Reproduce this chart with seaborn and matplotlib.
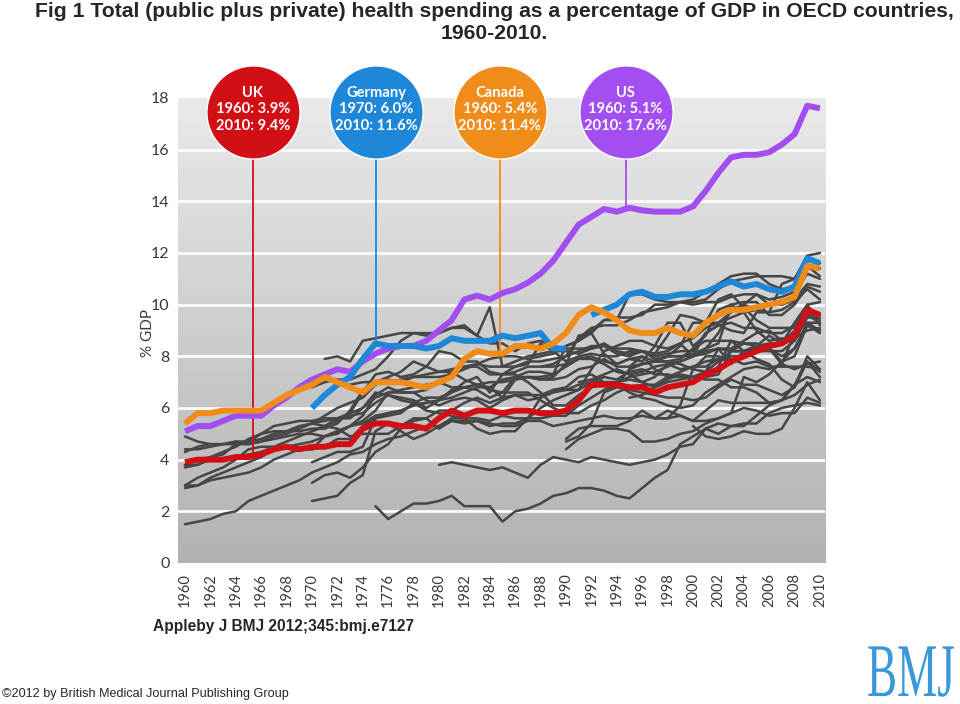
import numpy as np
import pandas as pd
import matplotlib
matplotlib.use("Agg")
import matplotlib.pyplot as plt
from matplotlib.colors import LinearSegmentedColormap
from matplotlib.patheffects import AbstractPathEffect
from matplotlib.transforms import Affine2D
import seaborn as sns

# --- highlighted countries (health spending, % of GDP) ---
YEARS = list(range(1960, 2011))

uk = [3.9, 4.0, 4.0, 4.0, 4.1, 4.1, 4.2, 4.4, 4.5, 4.4,
      4.5, 4.5, 4.6, 4.6, 5.2, 5.4, 5.4, 5.3, 5.3, 5.2,
      5.6, 5.9, 5.7, 5.9, 5.9, 5.8, 5.9, 5.9, 5.8, 5.8,
      5.9, 6.3, 6.9, 6.9, 6.9, 6.8, 6.8, 6.6, 6.8, 6.9,
      7.0, 7.3, 7.5, 7.8, 8.0, 8.2, 8.4, 8.5, 8.8, 9.8, 9.6]

us = [5.1, 5.3, 5.3, 5.5, 5.7, 5.7, 5.7, 6.1, 6.4, 6.8,
      7.1, 7.3, 7.5, 7.4, 7.8, 8.1, 8.3, 8.4, 8.4, 8.6,
      9.0, 9.4, 10.2, 10.35, 10.2, 10.45, 10.6, 10.85, 11.2, 11.7,
      12.4, 13.1, 13.4, 13.7, 13.6, 13.75, 13.65, 13.6, 13.6, 13.6,
      13.8, 14.4, 15.1, 15.7, 15.8, 15.8, 15.9, 16.2, 16.6, 17.7, 17.6]

canada = [5.4, 5.8, 5.8, 5.9, 5.9, 5.9, 5.9, 6.2, 6.5, 6.7,
          6.9, 7.2, 7.0, 6.8, 6.6, 7.0, 7.0, 7.0, 6.9, 6.8,
          7.0, 7.2, 7.9, 8.2, 8.1, 8.1, 8.4, 8.4, 8.3, 8.5,
          8.9, 9.6, 9.9, 9.7, 9.4, 9.0, 8.9, 8.9, 9.1, 8.9,
          8.8, 9.3, 9.6, 9.8, 9.8, 9.9, 10.0, 10.1, 10.3, 11.5, 11.4]

germany_years_a = list(range(1970, 1991))
germany_a = [6.0, 6.5, 6.9, 7.2, 7.9, 8.5, 8.4, 8.4, 8.4, 8.3,
             8.4, 8.7, 8.6, 8.6, 8.6, 8.8, 8.7, 8.8, 8.9, 8.3, 8.3]
germany_years_b = list(range(1992, 2011))
germany_b = [9.6, 9.8, 10.0, 10.4, 10.5, 10.3, 10.3, 10.4, 10.4, 10.5,
             10.7, 10.9, 10.7, 10.8, 10.6, 10.5, 10.7, 11.8, 11.6]

# --- other OECD countries (grey) ---
australia = [4.3, 4.5, 4.6, 4.6, 4.6, 4.6, 4.7, 4.8, 4.9, 5.0,
             5.0, 4.9, 5.0, 5.3, 5.7, 6.5, 6.8, 6.6, 6.6, 6.3,
             6.1, 6.3, 6.4, 6.3, 6.0, 6.3, 6.5, 6.5, 6.5, 6.7,
             6.7, 6.9, 7.0, 7.0, 7.0, 7.2, 7.3, 7.4, 7.6, 7.8,
             8.0, 8.1, 8.3, 8.2, 8.5, 8.4, 8.5, 8.5, 8.7, 9.0, 9.1]
austria = [4.4, 4.4, 4.5, 4.6, 4.7, 4.7, 4.8, 5.0, 5.1, 5.1,
           5.2, 5.2, 5.4, 5.9, 6.7, 7.0, 7.2, 7.4, 7.8, 7.6,
           7.4, 7.4, 7.1, 6.9, 6.8, 6.4, 7.1, 7.2, 7.2, 7.3,
           8.4, 8.6, 9.0, 9.4, 9.5, 9.5, 9.6, 10.0, 10.0, 10.1,
           10.0, 10.1, 10.1, 10.3, 10.4, 10.4, 10.2, 10.3, 10.5, 11.2, 11.0]
switzerland = [4.9, 4.7, 4.6, 4.6, 4.7, 4.6, 4.7, 4.9, 5.0, 5.2,
               5.4, 5.7, 6.0, 6.2, 6.4, 6.9, 7.1, 7.0, 7.2, 7.2,
               7.2, 7.3, 7.5, 7.7, 7.6, 7.6, 7.6, 7.8, 7.8, 7.9,
               8.0, 8.7, 9.1, 9.2, 9.2, 9.4, 9.7, 9.8, 9.9, 10.1,
               10.2, 10.5, 10.8, 11.1, 11.2, 11.2, 10.8, 10.6, 10.7, 11.4, 11.4]
finland = [3.8, 3.8, 4.1, 4.2, 4.6, 4.7, 5.0, 5.3, 5.4, 5.5,
           5.5, 5.6, 5.6, 5.7, 5.8, 6.2, 6.5, 6.4, 6.3, 6.0,
           6.3, 6.4, 6.6, 6.8, 6.8, 7.1, 7.2, 7.2, 7.1, 7.2,
           7.7, 8.8, 8.9, 8.1, 7.7, 7.9, 8.0, 7.5, 7.2, 7.2,
           7.2, 7.4, 7.8, 8.2, 8.2, 8.4, 8.3, 8.0, 8.3, 9.2, 8.9]
france = [3.8, 4.0, 4.1, 4.3, 4.5, 4.8, 5.0, 5.1, 5.1, 5.3,
          5.4, 5.5, 5.6, 5.8, 6.0, 6.4, 6.6, 6.7, 6.8, 6.9,
          7.0, 7.4, 7.6, 7.7, 7.9, 8.0, 8.0, 7.9, 8.0, 8.1,
          8.4, 8.6, 8.9, 9.4, 9.4, 10.4, 10.4, 10.2, 10.1, 10.1,
          10.1, 10.2, 10.6, 10.9, 11.0, 11.1, 11.1, 11.1, 11.0, 11.7, 11.6]
japan = [3.0, 3.3, 3.5, 3.7, 4.0, 4.4, 4.5, 4.5, 4.5, 4.4,
         4.4, 4.5, 4.8, 4.8, 5.3, 5.6, 5.7, 5.8, 6.2, 6.4,
         6.4, 6.6, 6.8, 6.9, 6.7, 6.6, 6.6, 6.6, 6.3, 6.0,
         5.8, 5.8, 6.1, 6.3, 6.6, 6.8, 6.9, 6.9, 7.2, 7.4,
         7.6, 7.8, 7.9, 8.0, 8.0, 8.2, 8.2, 8.2, 8.6, 9.5, 9.5]
norway = [2.9, 3.0, 3.2, 3.3, 3.4, 3.5, 3.7, 4.0, 4.2, 4.4,
          4.4, 4.9, 5.1, 5.3, 5.5, 5.9, 6.6, 6.6, 6.6, 6.7,
          7.0, 6.8, 6.8, 6.7, 6.4, 6.6, 7.2, 7.4, 7.4, 7.3,
          7.6, 7.9, 8.0, 7.8, 7.7, 7.9, 7.8, 8.4, 9.3, 9.3,
          8.4, 8.8, 9.8, 10.0, 9.7, 9.0, 8.6, 8.7, 8.6, 9.8, 9.4]
iceland = [3.0, 3.0, 3.3, 3.5, 3.7, 3.9, 4.1, 4.4, 4.5, 4.6,
           4.7, 4.9, 5.1, 5.3, 5.4, 5.7, 5.8, 5.9, 6.1, 6.2,
           6.3, 6.6, 7.0, 7.2, 6.6, 7.3, 7.6, 7.7, 8.5, 8.2,
           7.8, 8.0, 8.1, 8.0, 8.0, 8.2, 8.2, 8.1, 8.8, 9.6,
           9.5, 9.3, 10.2, 10.4, 9.9, 9.4, 9.1, 9.1, 9.1, 9.6, 9.3]
ireland = [3.7, 3.8, 4.0, 4.0, 4.1, 4.2, 4.3, 4.5, 4.7, 4.9,
           5.1, 5.3, 5.5, 5.8, 6.6, 7.3, 7.4, 7.2, 7.3, 7.6,
           8.2, 8.1, 7.8, 7.8, 7.4, 7.3, 7.3, 7.0, 6.6, 6.1,
           6.1, 6.5, 6.8, 6.9, 6.9, 6.6, 6.4, 6.3, 6.1, 6.0,
           6.1, 6.6, 6.9, 7.2, 7.5, 7.6, 7.5, 7.7, 8.9, 10.0, 9.2]
spain = [1.5, 1.6, 1.7, 1.9, 2.0, 2.4, 2.6, 2.8, 3.0, 3.2,
         3.5, 3.7, 3.9, 4.2, 4.3, 4.6, 4.8, 4.9, 5.1, 5.3,
         5.3, 5.5, 5.4, 5.5, 5.3, 5.4, 5.4, 5.6, 6.0, 6.3,
         6.5, 6.7, 7.0, 7.2, 7.1, 7.4, 7.5, 7.3, 7.3, 7.2,
         7.2, 7.2, 7.3, 8.2, 8.2, 8.3, 8.4, 8.5, 9.0, 9.6, 9.6]
denmark = [7.9, 8.0, 7.8, 8.6, 8.7, 8.8, 8.9, 8.9, 8.9,
           8.9, 9.1, 9.1, 8.8, 8.5, 8.5, 8.2, 8.5, 8.6, 8.4,
           8.3, 8.3, 8.3, 8.5, 8.2, 8.1, 8.2, 8.1, 8.2, 8.5,
           8.7, 9.1, 9.3, 9.5, 9.7, 9.8, 10.0, 10.0, 10.2, 11.5, 11.1]
sweden = [6.8, 7.0, 7.1, 7.1, 7.3, 7.5, 8.0, 8.6, 8.9, 8.8,
          8.9, 9.1, 9.2, 8.8, 9.9, 7.6, 7.8, 8.0, 8.1, 8.2,
          8.2, 8.1, 8.3, 8.4, 8.1, 8.0, 8.2, 8.0, 8.1, 8.2,
          8.2, 8.9, 9.2, 9.3, 9.1, 9.1, 8.9, 8.9, 9.2, 9.9, 9.6]
netherlands = [6.9, 6.9, 7.0, 7.0, 7.0, 7.1, 7.2, 7.3,
               7.4, 7.5, 7.6, 7.6, 7.3, 7.3, 7.4, 7.6, 7.6, 7.7,
               8.0, 8.2, 8.4, 8.4, 8.3, 8.3, 8.2, 7.9, 8.0, 8.0,
               8.0, 8.3, 8.9, 9.8, 10.0, 9.8, 9.7, 10.8, 11.0, 11.9, 12.0]
belgium = [3.9, 4.1, 4.3, 4.3, 4.5, 5.6, 5.8, 5.9, 6.1, 6.2,
           6.3, 6.7, 6.8, 6.9, 7.0, 7.0, 7.1, 7.2, 7.1, 7.1,
           7.2, 7.5, 7.6, 7.9, 7.6, 7.6, 8.0, 7.8, 8.0, 8.0,
           8.1, 8.3, 8.5, 10.0, 10.1, 10.1, 9.6, 9.6, 10.0, 10.7, 10.5]
new_zealand = [5.1, 5.3, 5.6, 5.6, 6.0, 6.6, 6.5, 6.3, 6.2, 5.9,
               5.8, 5.7, 5.6, 5.2, 5.0, 5.1, 5.1, 5.6, 6.4, 6.7,
               6.8, 7.2, 7.3, 7.0, 7.0, 7.1, 7.0, 7.2, 7.7, 7.5,
               7.6, 7.6, 7.9, 7.8, 8.0, 8.4, 8.8, 8.5, 9.3, 10.0, 10.1]
greece = [5.4, 5.3, 5.2, 4.9, 5.0, 5.0, 5.0, 5.3, 5.6, 5.6,
          5.9, 5.9, 6.2, 6.4, 6.2, 6.4, 6.5, 6.3, 6.4, 6.6,
          6.7, 6.7, 7.5, 8.2, 8.4, 8.6, 8.6, 8.4, 8.3, 8.5,
          8.0, 8.9, 9.2, 9.0, 8.9, 9.7, 9.7, 9.8, 10.1, 10.6, 10.2]
luxembourg = [3.1, 3.4, 3.5, 3.3, 3.7, 4.3, 4.6, 5.2, 5.5, 5.6,
              5.2, 5.5, 5.5, 5.5, 5.4, 5.3, 5.3, 5.5, 5.5, 5.3,
              5.4, 5.5, 5.6, 5.7, 5.6, 5.6, 5.7, 5.6, 5.6, 6.1,
              7.5, 7.4, 8.3, 7.7, 8.2, 7.9, 7.7, 7.1, 6.8, 7.8, 7.2]
portugal = [2.4, 2.5, 2.6, 3.1, 3.4, 5.1, 5.4, 5.1, 4.8, 5.0,
            5.3, 5.6, 5.6, 5.6, 5.5, 5.7, 5.6, 5.6, 5.6, 5.7,
            5.7, 6.1, 6.4, 6.7, 6.9, 7.5, 7.7, 7.8, 8.0, 8.4,
            9.3, 9.3, 9.3, 9.7, 10.0, 10.4, 10.0, 10.0, 10.2, 10.8, 10.7]
italy = [7.6, 7.6,
         7.7, 7.9, 7.9, 7.7, 7.4, 7.3, 7.4, 7.6, 7.7, 7.8,
         8.0, 8.2, 8.3, 8.3, 8.6, 8.9, 9.0, 8.6, 8.9, 9.3, 9.3]
korea = [3.8, 3.9, 3.8, 3.7, 3.6, 3.7, 3.5, 3.3, 3.8, 4.1,
         4.0, 3.9, 4.1, 4.0, 3.9, 3.8, 3.9, 4.0, 4.2, 4.5,
         4.6, 5.2, 5.0, 5.3, 5.3, 5.7, 6.1, 6.3, 6.5, 6.9, 7.1]
turkey = [2.2, 1.7, 2.0, 2.3, 2.3,
          2.4, 2.6, 2.2, 2.2, 2.2, 1.6, 2.0, 2.1, 2.3, 2.6,
          2.7, 2.9, 2.9, 2.8, 2.6, 2.5, 2.9, 3.3, 3.6, 4.6,
          4.9, 5.2, 5.4, 5.3, 5.4, 5.4, 5.8, 6.0, 6.1, 6.2, 6.1]
mexico = [4.4, 4.8, 5.0, 5.2, 5.2, 5.1, 4.7, 4.7, 4.8, 5.0,
          5.1, 5.4, 5.6, 5.8, 6.0, 5.9, 5.7, 5.8, 5.8, 6.4, 6.2]
czech = [4.7, 4.9, 5.4, 6.6, 6.8, 6.7, 6.6, 6.5, 6.4, 6.4,
         6.3, 6.4, 6.8, 7.1, 6.9, 6.9, 6.7, 6.5, 6.8, 8.0, 7.5]
poland = [4.8, 5.2, 5.3, 5.3, 5.3, 5.5, 5.9, 5.6, 5.9, 5.7,
          5.5, 5.9, 6.3, 6.2, 6.2, 6.2, 6.2, 6.3, 6.9, 7.2, 7.0]
hungary = [7.0, 7.1, 7.3, 7.5, 7.3, 7.0, 6.8, 7.0, 7.1,
           7.2, 7.2, 7.6, 8.6, 8.2, 8.4, 8.3, 7.7, 7.5, 7.7, 7.8]
slovakia = [5.6, 5.6, 5.7, 5.5, 5.5, 5.6, 5.8, 7.2, 7.0, 7.3, 7.8, 8.0, 9.2, 9.0]
slovenia = [7.5, 7.7, 7.8, 7.8, 7.9, 8.3, 8.6, 8.6, 8.6, 8.5, 8.5, 8.3, 7.8, 8.3, 9.3, 9.0]
estonia = [5.3, 4.9, 4.8, 4.9, 5.1, 5.0, 5.0, 5.2, 6.0, 7.0, 6.3]
israel = [7.6, 7.7, 7.8, 7.8, 7.7, 7.5, 8.0, 8.0, 7.9, 7.7, 7.8, 7.6, 7.6, 7.6, 7.6, 7.5]
chile = [6.4, 6.5, 6.8, 7.1, 7.3, 7.2, 7.1, 7.1, 6.8, 6.8, 6.6, 6.2, 6.3, 6.9, 7.8, 7.4]

GREY = [("Australia", 1960, australia), ("Austria", 1960, austria),
        ("Switzerland", 1960, switzerland), ("Finland", 1960, finland),
        ("France", 1960, france), ("Japan", 1960, japan), ("Norway", 1960, norway),
        ("Iceland", 1960, iceland), ("Ireland", 1960, ireland), ("Spain", 1960, spain),
        ("Denmark", 1971, denmark), ("Sweden", 1970, sweden),
        ("Netherlands", 1972, netherlands), ("Belgium", 1970, belgium),
        ("New Zealand", 1970, new_zealand), ("Greece", 1970, greece),
        ("Luxembourg", 1970, luxembourg), ("Portugal", 1970, portugal),
        ("Italy", 1988, italy), ("Korea", 1980, korea), ("Turkey", 1975, turkey),
        ("Mexico", 1990, mexico), ("Czech Republic", 1990, czech),
        ("Poland", 1990, poland), ("Hungary", 1991, hungary),
        ("Slovakia", 1997, slovakia), ("Slovenia", 1995, slovenia),
        ("Estonia", 2000, estonia), ("Israel", 1995, israel), ("Chile", 1995, chile)]

BUBBLE_TEXT = {"UK": "UK\n1960: 3.9%\n2010: 9.4%",
               "Germany": "Germany\n1970: 6.0%\n2010: 11.6%",
               "Canada": "Canada\n1960: 5.4%\n2010: 11.4%",
               "US": "US\n1960: 5.1%\n2010: 17.6%"}

XTICK_LABELS = [str(y) if y != 1976 else "1776" for y in range(1960, 2011, 2)]

# colours
C_UK = "#d20f14"
C_DE = "#1e87d8"
C_CA = "#f08c1a"
C_US = "#a24ef0"
C_GREY = "#464646"
C_TXT = "#3a3a3a"


class Stretch(AbstractPathEffect):
    """stretch glyphs vertically (the BMJ logo is a tall, narrow serif)"""
    def __init__(self, sy):
        super().__init__()
        self.sy = sy

    def draw_path(self, renderer, gc, tpath, affine, rgbFace=None):
        renderer.draw_path(gc, tpath, Affine2D().scale(1, self.sy) + affine, rgbFace)


sns.set_style("white")
plt.rcParams["font.family"] = ["Lato", "DejaVu Sans"]

fig = plt.figure(figsize=(9.6, 7.04), dpi=100)
ax = fig.add_axes([0.1854, 0.2003, 0.674, 0.6605])

X0, X1 = 1959.45, 2010.4

# grey gradient background
grad = LinearSegmentedColormap.from_list("bg", ["#eaeaea", "#b2b2b2"])
ax.imshow(np.linspace(0, 1, 256).reshape(-1, 1), extent=[X0, X1, 0, 18],
          aspect="auto", cmap=grad, origin="upper", zorder=0)
for yv in range(2, 18, 2):
    ax.axhline(yv, color="white", lw=1.9, zorder=1)

# other OECD countries
rows = []
for name, start, vals in GREY:
    for i, v in enumerate(vals):
        rows.append((name, start + i, v))
grey_df = pd.DataFrame(rows, columns=["country", "year", "pct"])
sns.lineplot(data=grey_df, x="year", y="pct", units="country", estimator=None,
             color=C_GREY, lw=1.8, ax=ax, zorder=2, solid_joinstyle="round")

# highlighted countries
hl = [(YEARS, us, C_US), (germany_years_a, germany_a, C_DE),
      (germany_years_b, germany_b, C_DE), (YEARS, canada, C_CA), (YEARS, uk, C_UK)]
for xs, ys, c in hl:
    sns.lineplot(x=xs, y=ys, color=c, lw=4.3, ax=ax, zorder=5,
                 solid_joinstyle="round", solid_capstyle="butt")

# bubbles with connector lines
bubbles = [("UK", 1965.35, YEARS, uk, C_UK),
           ("Germany", 1975.05, germany_years_a, germany_a, C_DE),
           ("Canada", 1984.8, YEARS, canada, C_CA),
           ("US", 1994.7, YEARS, us, C_US)]
by = 17.46
for name, bx, xs, ys, c in bubbles:
    yend = np.interp(bx, xs, ys)
    ax.plot([bx, bx], [by, yend], color=c, lw=1.3, zorder=4, clip_on=False)
    ax.scatter([bx], [by], s=4500, color=c, edgecolors="white", linewidths=1.0,
               zorder=10, clip_on=False)
    ax.text(bx, by + 0.1, BUBBLE_TEXT[name], ha="center", va="center", color="white",
            fontsize=10.6, fontweight="bold", linespacing=1.2, zorder=11, clip_on=False)

ax.set_xlim(X0, X1)
ax.set_ylim(0, 18)
sns.despine(ax=ax, left=True, bottom=True)

ax.set_yticks(range(0, 19, 2))
ax.set_xticks(range(1960, 2011, 2))
ax.set_xticklabels(XTICK_LABELS, rotation=90)
ax.set_xticks(range(1960, 2011), minor=True)
ax.tick_params(axis="x", which="both", direction="in", color="white",
               length=4, width=1.2, pad=7, labelsize=10.5, labelcolor=C_TXT)
ax.tick_params(axis="y", length=0, pad=6, labelsize=11.5, labelcolor=C_TXT)
ax.set_xlabel("")
ax.set_ylabel("")
fig.text(148 / 960, 1 - 333 / 704, "% GDP", rotation=90, ha="center", va="center",
         fontsize=11, color=C_TXT)

# titles / credits
fig.text(0.515, 0.997, "Fig 1 Total (public plus private) health spending as a percentage "
         "of GDP in OECD countries,\n1960-2010.", ha="center", va="top",
         fontsize=15.2, fontweight="bold", family=["Liberation Sans", "DejaVu Sans"],
         linespacing=1.2)
fig.text(153 / 960, 1 - 627 / 704, "Appleby J BMJ 2012;345:bmj.e7127", ha="left",
         va="center", fontsize=11.2, fontweight="bold",
         family=["Liberation Sans", "DejaVu Sans"])
fig.text(2 / 960, 1 - 694 / 704, "\u00a92012 by British Medical Journal Publishing Group",
         ha="left", va="center", fontsize=9.1,
         family=["Liberation Sans", "DejaVu Sans"])
fig.text(867 / 960, 1 - 696 / 704, "BMJ", ha="left", va="baseline", fontsize=32.5,
         color="#3a98d8", family=["Liberation Serif", "DejaVu Serif"],
         path_effects=[Stretch(1.68)])

fig.savefig("out.png", dpi=100)
